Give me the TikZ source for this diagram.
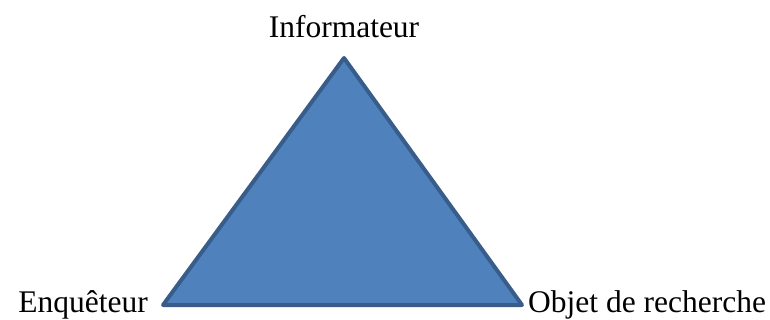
\documentclass[tikz,border=0pt]{standalone}
\usepackage{fontspec}
\setmainfont{Liberation Serif}
\usetikzlibrary{positioning}
\definecolor{trifill}{HTML}{4F81BD}
\definecolor{triline}{HTML}{385D8A}

\begin{document}
\begin{tikzpicture}[x=1pt, y=-1pt, label/.style={font=\fontsize{31.5}{36}\selectfont, inner sep=0pt}]

        \useasboundingbox (0, 0) rectangle (770, 320);

        \coordinate (top) at (344, 58);
        \coordinate (left) at (163, 305);
        \coordinate (right) at (522, 305);

        \draw[triline, fill=trifill, line width=4pt, line join=round] (top) -- (left) -- (right) -- cycle;

        \node[label, anchor=base] (info) at (344, 38) {Informateur};
        \node[label, anchor=base east] (enq) at (148, 312) {Enquêteur};
        \node[label, anchor=base west] (objet) at (528, 312) {Objet de recherche};
      \end{tikzpicture}
\end{document}
